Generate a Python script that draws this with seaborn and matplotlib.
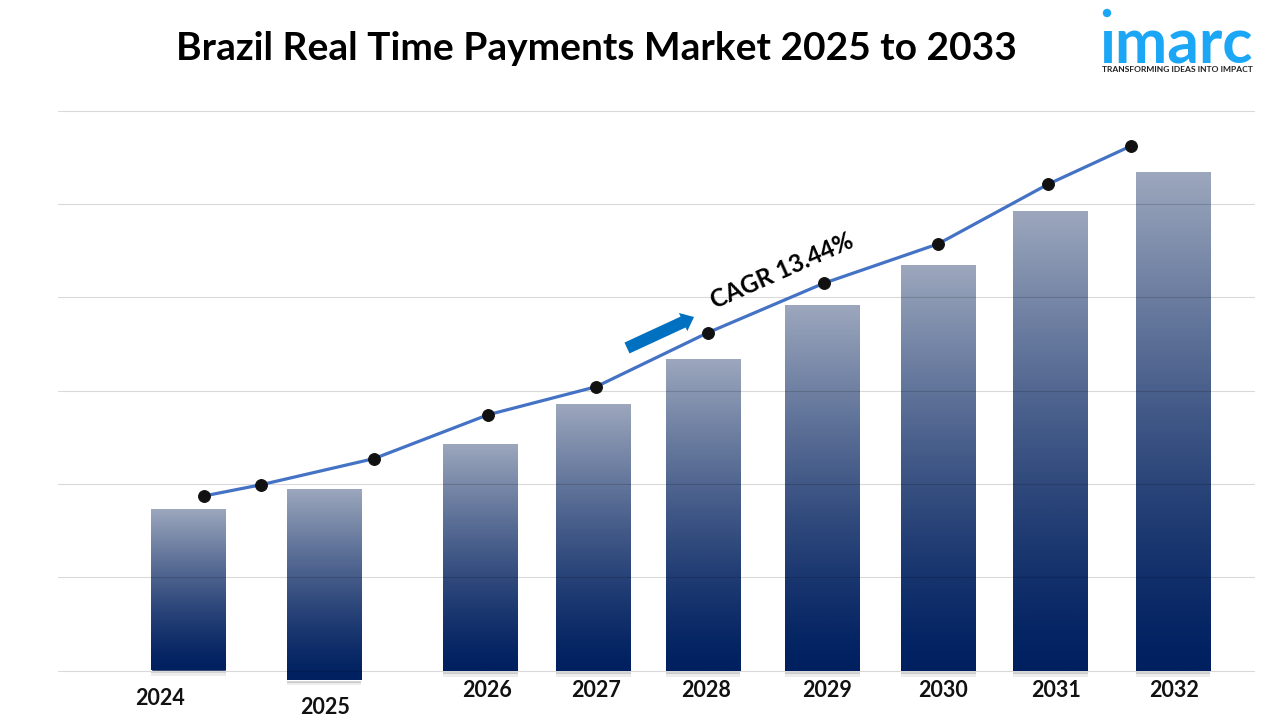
import numpy as np
import pandas as pd
import matplotlib.pyplot as plt
import matplotlib.patheffects as pe
from matplotlib.colors import LinearSegmentedColormap
from matplotlib.patches import FancyArrow, Circle
from matplotlib.transforms import Affine2D
import seaborn as sns

# Data, in gridline units (axis has no labels)
years = ["2024", "2025", "2026", "2027", "2028", "2029", "2030", "2031", "2032"]
bar_values = [1.72, 1.94, 2.42, 2.85, 3.33, 3.91, 4.33, 4.91, 5.33]
bar_bottoms = [0.0, -0.10, -0.01, -0.01, -0.01, -0.01, -0.01, -0.01, -0.01]
line_values = [1.87, 1.99, 2.27, 2.74, 3.04, 3.62, 4.15, 4.57, 5.21, 5.62]

# Horizontal placement (the original slide has uneven spacing)
bar_x = [188.5, 324, 480.5, 593.5, 703, 822.5, 938.5, 1050.5, 1173]
line_x = [204, 261, 374, 488, 596, 708, 824, 938, 1048, 1131]
label_x = [160, 325, 487, 596, 706, 827, 943, 1056, 1174]
label_y = [-0.05, -0.066, -0.036, -0.036, -0.036, -0.036, -0.036, -0.036, -0.036]

sns.set_style("white")
plt.rcParams['font.family'] = ['Lato', 'DejaVu Sans']

fig = plt.figure(figsize=(12.8, 7.2), dpi=100)
ax = fig.add_axes([58 / 1280, (720 - 670.5) / 720, (1254 - 58) / 1280, (670.5 - 110.5) / 720])

# pixel transform for the slide furniture (origin top left)
px = Affine2D().scale(1, -1).translate(0, 720)

# Bars
bars = pd.DataFrame({"x": bar_x, "value": bar_values})
sns.barplot(data=bars, x="x", y="value", native_scale=True, width=0.68,
            color="#002060", ax=ax)

fade = LinearSegmentedColormap.from_list("fade", ["#002060", "#9ca7bd"])
grad = np.linspace(0, 1, 256).reshape(-1, 1) ** 1.3
for patch, bottom, value in zip(ax.patches, bar_bottoms, bar_values):
    patch.set_y(bottom)
    patch.set_height(value - bottom)
    patch.set_clip_on(False)
    patch.set_zorder(1)
    patch.set_path_effects([pe.SimplePatchShadow(offset=(0, -4), shadow_rgbFace="#888888", alpha=0.15),
                            pe.SimplePatchShadow(offset=(0, -2), shadow_rgbFace="#666666", alpha=0.25),
                            pe.Normal()])
    x0 = patch.get_x()
    ax.imshow(grad, extent=[x0, x0 + patch.get_width(), bottom, value], origin="lower",
              cmap=fade, aspect="auto", zorder=1.5, clip_on=False)

# Line with markers
sns.lineplot(x=line_x, y=line_values, color="#4472c4", linewidth=2.3, marker="o",
             markersize=8.5, markerfacecolor="#111111", markeredgecolor="#111111",
             zorder=3, ax=ax)

ax.set_xlim(58, 1254)
ax.set_ylim(0, 6)
ax.set_yticks(range(7))
ax.set_yticklabels([])
ax.set_xlabel("")
ax.set_ylabel("")
ax.set_xticks(label_x)
ax.set_xticklabels(years, fontsize=15.5, fontweight="bold", color="#111111", va="center")
for tick, y in zip(ax.get_xticklabels(), label_y):
    tick.set_y(y)
ax.tick_params(length=0, pad=0)
ax.set_axisbelow(False)
ax.grid(axis="y", color="black", alpha=0.15, linewidth=0.8)
ax.grid(axis="x", visible=False)
for gridline in ax.get_ygridlines():
    gridline.set_clip_on(False)
sns.despine(ax=ax, left=True, bottom=True)

# Title
fig.text(596 / 1280, 1 - 48 / 720, "Brazil Real Time Payments Market 2025 to 2033",
         fontsize=28, fontweight="bold", color="black", ha="center", va="center")

# CAGR note and arrow
fig.text(782 / 1280, 1 - 271 / 720, "CAGR 13.44%", fontsize=17.5, fontweight="bold", color="black",
         rotation=24, rotation_mode="anchor", ha="center", va="center")
fig.add_artist(FancyArrow(627, 348, 67, -31, width=12, head_width=20, head_length=12,
                          length_includes_head=True, color="#0070c0", linewidth=0, transform=px))

# Logo
fig.text(1177 / 1280, 1 - 45 / 720, "ımarc", fontsize=45, fontweight="bold", color="#1ba7f5",
         ha="center", va="center")
fig.add_artist(Circle((1107, 13), 4.2, color="#1ba7f5", linewidth=0, transform=px))
fig.text(1177 / 1280, 1 - 69 / 720, "TRANSFORMING IDEAS INTO IMPACT", fontsize=6.1, fontweight="bold",
         color="#222222", ha="center", va="center")

fig.savefig("out.png", dpi=100)
